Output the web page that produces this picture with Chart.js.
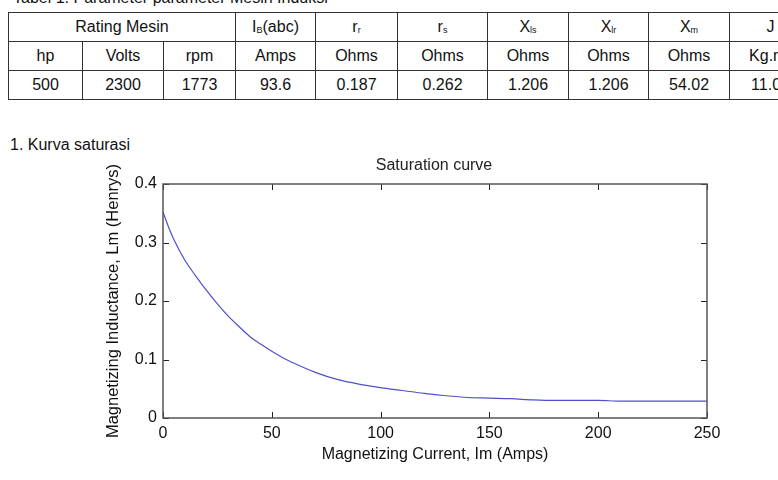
<!DOCTYPE html>
<html>
<head>
<meta charset="utf-8">
<script src="https://cdn.jsdelivr.net/npm/chart.js@4"></script>
<style>
    html, body { margin: 0; padding: 0; background: #fff; }
    body { width: 778px; height: 480px; overflow: hidden; position: relative;
           font-family: "Liberation Sans", Arial, sans-serif; color: #111; }
    #caption { position: absolute; left: 13px; top: -11px; font-size: 16px; white-space: nowrap; }
    #tblParam { position: absolute; left: 8px; top: 12px; width: 803px; border-collapse: collapse;
                table-layout: fixed; font-size: 16px; }
    #tblParam td { border: 1px solid #333; text-align: center; padding: 0; height: 28px;
                   white-space: nowrap; overflow: hidden; line-height: 18px; }
    #tblParam sub { font-size: 9px; vertical-align: -1px; line-height: 0; }
    #tblParam sup { font-size: 10px; line-height: 0; }
    #section { position: absolute; left: 10px; top: 136px; font-size: 16px; }
    #chartBox { position: absolute; left: 0; top: 140px; }
</style>
</head>
<body>
<div id="caption">Tabel 1. Parameter parameter Mesin Induksi</div>
<table id="tblParam">
    <colgroup>
        <col style="width:74px"><col style="width:81px"><col style="width:72px">
        <col style="width:80px"><col style="width:82px"><col style="width:90px">
        <col style="width:81px"><col style="width:80px"><col style="width:81px">
        <col style="width:82px">
    </colgroup>
    <tr><td colspan="3">Rating Mesin</td><td>I<sub>B</sub>(abc)</td><td>r<sub>r</sub></td><td>r<sub>s</sub></td>
        <td>X<sub>ls</sub></td><td>X<sub>lr</sub></td><td>X<sub>m</sub></td><td>J</td></tr>
    <tr><td>hp</td><td>Volts</td><td>rpm</td><td>Amps</td><td>Ohms</td><td>Ohms</td>
        <td>Ohms</td><td>Ohms</td><td>Ohms</td><td>Kg.m<sup>2</sup></td></tr>
    <tr><td>500</td><td>2300</td><td>1773</td><td>93.6</td><td>0.187</td><td>0.262</td>
        <td>1.206</td><td>1.206</td><td>54.02</td><td>11.06</td></tr>
</table>
<div id="section">1. Kurva saturasi</div>
<div id="chartBox"><canvas id="satChart" width="778" height="340"></canvas></div>

<script>
// Data
const currentAmps = [0, 2.5, 5, 10, 15, 20, 25, 30, 35, 40, 45, 50, 55, 60, 70, 80, 90, 100,
    110, 120, 130, 140, 150, 160, 170, 180, 190, 200, 210, 220, 230, 240, 250];
const inductanceH = [0.352, 0.327, 0.305, 0.270, 0.243, 0.218, 0.195, 0.174, 0.156, 0.139, 0.126,
    0.114, 0.103, 0.094, 0.078, 0.066, 0.058, 0.052, 0.047, 0.042, 0.038, 0.035, 0.034,
    0.033, 0.031, 0.030, 0.030, 0.030, 0.029, 0.029, 0.029, 0.029, 0.029];

const xMin = 0, xMax = 250, xStep = 50;
const yMin = 0, yMax = 0.4, yStep = 0.1;

const fontFamily = '"Liberation Sans", Arial, sans-serif';

// Cadre + graduations vers l'intérieur (style MATLAB)
const matlabBox = {
    id: "matlabBox",
    afterDraw(chart) {
        const { ctx, chartArea: a, scales: { x, y } } = chart;
        const len = 6;
        ctx.save();
        ctx.strokeStyle = "#222";
        ctx.lineWidth = 1;
        ctx.beginPath();
        x.ticks.forEach((t, i) => {
            const px = Math.round(x.getPixelForTick(i)) + 0.5;
            ctx.moveTo(px, a.bottom); ctx.lineTo(px, a.bottom - len);
            ctx.moveTo(px, a.top); ctx.lineTo(px, a.top + len);
        });
        y.ticks.forEach((t, i) => {
            const py = Math.round(y.getPixelForTick(i)) + 0.5;
            ctx.moveTo(a.left, py); ctx.lineTo(a.left + len, py);
            ctx.moveTo(a.right, py); ctx.lineTo(a.right - len, py);
        });
        ctx.stroke();
        ctx.strokeStyle = "#555";
        ctx.lineWidth = 1.5;
        ctx.strokeRect(a.left, a.top, a.right - a.left, a.bottom - a.top);
        ctx.restore();
    }
};

new Chart(document.getElementById("satChart"), {
    type: "line",
    data: {
        datasets: [{
            data: currentAmps.map((c, i) => ({ x: c, y: inductanceH[i] })),
            borderColor: "#5050c8",
            borderWidth: 1.2,
            pointRadius: 0,
            cubicInterpolationMode: "monotone",
            fill: false
        }]
    },
    options: {
        responsive: false,
        animation: false,
        layout: { padding: { left: 100, right: 10, top: 0, bottom: 0 } },
        plugins: {
            legend: { display: false },
            tooltip: { enabled: false },
            title: {
                display: true,
                text: "Saturation curve",
                color: "#222",
                font: { family: fontFamily, size: 16, weight: "normal" },
                padding: { top: 16, bottom: 8.8 }
            }
        },
        scales: {
            x: {
                type: "linear",
                min: xMin, max: xMax,
                grid: { display: false, drawTicks: false },
                border: { display: false },
                ticks: { stepSize: xStep, padding: 6, color: "#111",
                         font: { family: fontFamily, size: 16 } },
                title: { display: true, text: "Magnetizing Current, Im (Amps)", color: "#111",
                         font: { family: fontFamily, size: 16 }, padding: { top: 0, bottom: 15.4 } },
                afterFit: s => { s.height = 62; }
            },
            y: {
                min: yMin, max: yMax,
                grid: { display: false, drawTicks: false },
                border: { display: false },
                ticks: { stepSize: yStep, padding: 6, color: "#111",
                         font: { family: fontFamily, size: 16 } },
                title: { display: true, text: "Magnetizing Inductance, Lm (Henrys)", color: "#111",
                         font: { family: fontFamily, size: 16.5 }, padding: { top: 3.4, bottom: 0 } },
                afterFit: s => { s.width = 63; }
            },
            // axe vide à droite, juste pour réserver la marge
            yRight: {
                position: "right",
                grid: { display: false },
                border: { display: false },
                ticks: { display: false },
                afterFit: s => { s.width = 61; }
            }
        }
    },
    plugins: [matlabBox]
});
</script>
</body>
</html>
